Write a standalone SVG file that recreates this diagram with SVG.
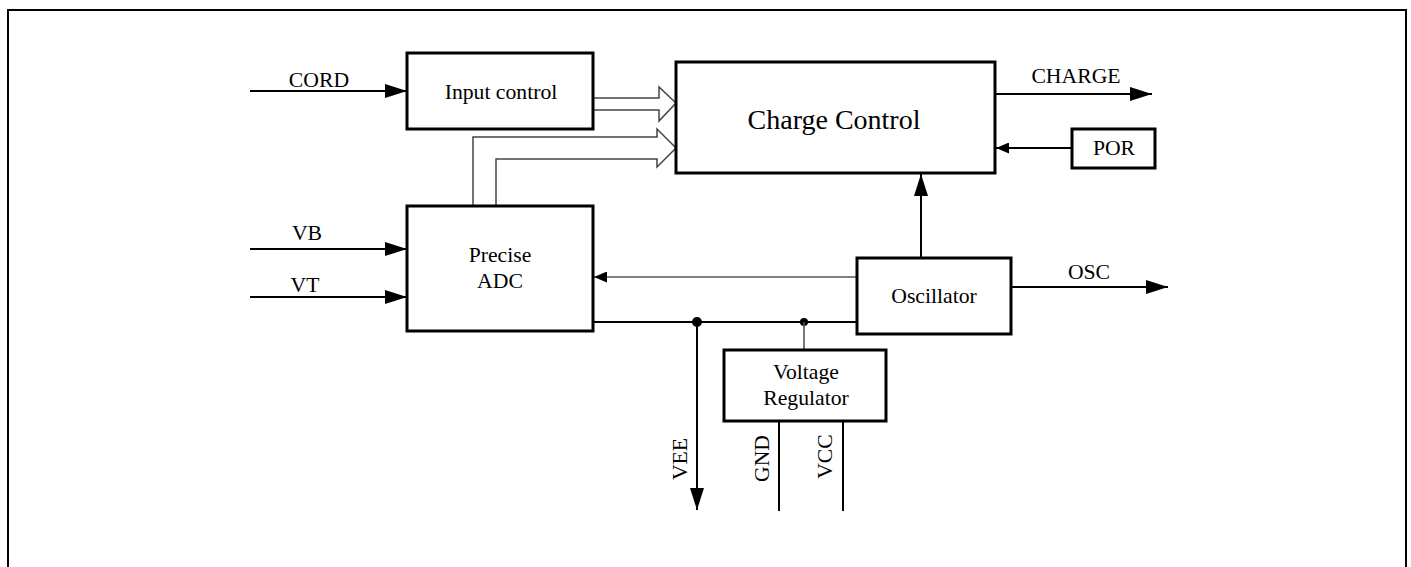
<svg xmlns="http://www.w3.org/2000/svg" width="1411" height="567" viewBox="0 0 1411 567">
<defs>
<marker id="big" markerUnits="userSpaceOnUse" markerWidth="22" markerHeight="14" refX="22" refY="7" orient="auto"><path d="M0,0 L22,7 L0,14 z" fill="#000"/></marker>
<marker id="small" markerUnits="userSpaceOnUse" markerWidth="13" markerHeight="11" refX="13" refY="5.5" orient="auto"><path d="M0,0 L13,5.5 L0,11 z" fill="#000"/></marker>
<style>
.box{fill:#fff;stroke:#000;stroke-width:3}
.t{font-family:"Liberation Serif","Times New Roman",serif;font-size:21.7px;fill:#000;text-anchor:middle}
.big{font-size:28px}
.w{fill:none;stroke:#000;stroke-width:2}
.g{fill:none;stroke:#555;stroke-width:1.6}
.h{fill:#fff;stroke:#444;stroke-width:1.5}
</style>
</defs>
<rect x="0" y="0" width="1411" height="567" fill="#fff"/>
<rect x="8" y="10" width="1398" height="600" fill="none" stroke="#000" stroke-width="2"/>
<g id="connectors">
<line class="w" x1="250" y1="91" x2="407" y2="91" marker-end="url(#big)"/>
<line class="w" x1="250" y1="249" x2="407" y2="249" marker-end="url(#big)"/>
<line class="w" x1="250" y1="297" x2="407" y2="297" marker-end="url(#big)"/>
<path class="h" d="M593,98 L659,98 L659,87 L676,103 L659,121 L659,110 L593,110"/>
<path class="h" d="M473,206 L473,137 L657,137 L657,129 L676,148 L657,167 L657,159 L496,159 L496,206"/>
<line class="w" x1="995" y1="94" x2="1152" y2="94" marker-end="url(#big)"/>
<line class="w" x1="1072" y1="148" x2="996" y2="148" marker-end="url(#small)"/>
<line class="w" x1="921" y1="258" x2="921" y2="174" marker-end="url(#big)"/>
<line class="g" x1="857" y1="277" x2="594" y2="277" marker-end="url(#small)"/>
<line class="w" x1="1011" y1="287" x2="1168" y2="287" marker-end="url(#big)"/>
<line class="w" x1="593" y1="322" x2="857" y2="322"/>
<circle cx="697" cy="322" r="5" fill="#000"/>
<circle cx="804" cy="322" r="4" fill="#000"/>
<line class="g" x1="804" y1="322" x2="804" y2="350"/>
<line class="w" x1="697" y1="322" x2="697" y2="510" marker-end="url(#big)"/>
<line class="w" x1="779" y1="421" x2="779" y2="511"/>
<line class="w" x1="843" y1="421" x2="843" y2="511"/>
</g>
<g id="labels">
<text class="t" x="319" y="87">CORD</text>
<text class="t" x="307" y="240">VB</text>
<text class="t" x="305" y="292">VT</text>
<text class="t" x="1076" y="83">CHARGE</text>
<text class="t" x="1089" y="279">OSC</text>
<text class="t" transform="translate(687,459) rotate(-90)">VEE</text>
<text class="t" transform="translate(769,458.5) rotate(-90)">GND</text>
<text class="t" transform="translate(832,456.5) rotate(-90)">VCC</text>
</g>
<g id="input-control">
<rect class="box" x="407" y="53" width="186" height="76"/>
<text class="t" x="501" y="99">Input control</text>
</g>
<g id="charge-control">
<rect class="box" x="676" y="62" width="319" height="111"/>
<text class="t big" x="834" y="129">Charge Control</text>
</g>
<g id="por">
<rect class="box" x="1072" y="129" width="83" height="39"/>
<text class="t" x="1114" y="155">POR</text>
</g>
<g id="precise-adc">
<rect class="box" x="407" y="206" width="186" height="125"/>
<text class="t" x="500" y="262">Precise</text>
<text class="t" x="500" y="288">ADC</text>
</g>
<g id="oscillator">
<rect class="box" x="857" y="258" width="154" height="76"/>
<text class="t" x="934" y="303">Oscillator</text>
</g>
<g id="voltage-regulator">
<rect class="box" x="724" y="350" width="162" height="71"/>
<text class="t" x="806" y="379">Voltage</text>
<text class="t" x="806" y="405">Regulator</text>
</g>
</svg>
